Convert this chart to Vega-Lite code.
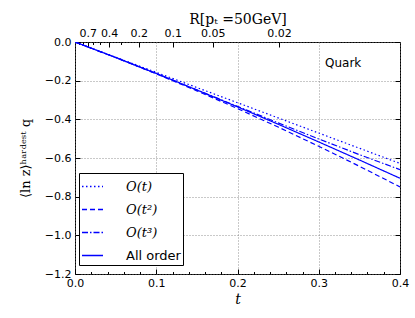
{
  "$schema": "https://vega.github.io/schema/vega-lite/v6.json",
  "width": 325,
  "height": 232,
  "autosize": "none",
  "padding": {"left": 75, "top": 42, "right": 15, "bottom": 44},
  "config": {
    "view": {"stroke": "black", "strokeWidth": 1},
    "font": "DejaVu Sans",
    "axis": {
      "labelFont": "DejaVu Sans",
      "labelFontSize": 11,
      "labelColor": "black",
      "labelFlush": false,
      "tickColor": "black",
      "domain": false,
      "titleFontWeight": "normal",
      "titleColor": "black",
      "gridColor": "#777777",
      "gridDash": [1, 2],
      "gridWidth": 0.8
    }
  },
  "datasets": {
    "curves": [
      {"t": 0.0, "v": 0.0, "order": "O(t)"},
      {"t": 0.05, "v": -0.0785, "order": "O(t)"},
      {"t": 0.1, "v": -0.157, "order": "O(t)"},
      {"t": 0.15, "v": -0.2355, "order": "O(t)"},
      {"t": 0.2, "v": -0.314, "order": "O(t)"},
      {"t": 0.25, "v": -0.3925, "order": "O(t)"},
      {"t": 0.3, "v": -0.471, "order": "O(t)"},
      {"t": 0.35, "v": -0.5495, "order": "O(t)"},
      {"t": 0.4, "v": -0.628, "order": "O(t)"},
      {"t": 0.0, "v": 0.0, "order": "O(t²)"},
      {"t": 0.05, "v": -0.0804, "order": "O(t²)"},
      {"t": 0.1, "v": -0.1646, "order": "O(t²)"},
      {"t": 0.15, "v": -0.2526, "order": "O(t²)"},
      {"t": 0.2, "v": -0.3444, "order": "O(t²)"},
      {"t": 0.25, "v": -0.44, "order": "O(t²)"},
      {"t": 0.3, "v": -0.5394, "order": "O(t²)"},
      {"t": 0.35, "v": -0.6426, "order": "O(t²)"},
      {"t": 0.4, "v": -0.7496, "order": "O(t²)"},
      {"t": 0.0, "v": 0.0, "order": "O(t³)"},
      {"t": 0.05, "v": -0.0802, "order": "O(t³)"},
      {"t": 0.1, "v": -0.1632, "order": "O(t³)"},
      {"t": 0.15, "v": -0.2479, "order": "O(t³)"},
      {"t": 0.2, "v": -0.3332, "order": "O(t³)"},
      {"t": 0.25, "v": -0.4181, "order": "O(t³)"},
      {"t": 0.3, "v": -0.5016, "order": "O(t³)"},
      {"t": 0.35, "v": -0.5826, "order": "O(t³)"},
      {"t": 0.4, "v": -0.66, "order": "O(t³)"},
      {"t": 0.0, "v": 0.0, "order": "All order"},
      {"t": 0.05, "v": -0.08, "order": "All order"},
      {"t": 0.1, "v": -0.1627, "order": "All order"},
      {"t": 0.15, "v": -0.248, "order": "All order"},
      {"t": 0.2, "v": -0.3356, "order": "All order"},
      {"t": 0.25, "v": -0.4253, "order": "All order"},
      {"t": 0.3, "v": -0.5169, "order": "All order"},
      {"t": 0.35, "v": -0.6101, "order": "All order"},
      {"t": 0.4, "v": -0.7048, "order": "All order"}
    ],
    "note": [
      {"t": 0.33, "v": -0.109, "label": "Quark"}
    ]
  },
  "layer": [
    {
      "data": {"name": "curves"},
      "mark": {"type": "line", "strokeWidth": 1.2, "clip": true},
      "encoding": {
        "x": {
          "field": "t", "type": "quantitative",
          "scale": {"domain": [0, 0.4], "nice": false, "zero": false},
          "axis": {
            "orient": "bottom",
            "values": [0, 0.1, 0.2, 0.3, 0.4],
            "format": ".1f",
            "grid": true,
            "tickSize": -5,
            "labelPadding": 8,
            "title": "t",
            "titleFont": "DejaVu Serif",
            "titleFontStyle": "italic",
            "titleFontSize": 14,
            "titlePadding": 4
          }
        },
        "y": {
          "field": "v", "type": "quantitative",
          "scale": {"domain": [-1.2, 0], "nice": false, "zero": false},
          "axis": {
            "orient": "left",
            "values": [-1.2, -1.0, -0.8, -0.6, -0.4, -0.2, 0.0],
            "format": ".1f",
            "grid": true,
            "tickSize": -5,
            "labelPadding": 9,
            "title": "⟨ln z⟩ʰᵃʳᵈᵉˢᵗ q",
            "titleFont": "DejaVu Serif",
            "titleFontSize": 13,
            "titlePadding": 12
          }
        },
        "color": {
          "field": "order", "type": "nominal",
          "scale": {
            "domain": ["O(t)", "O(t²)", "O(t³)", "All order"],
            "range": ["#0000ff", "#0000ff", "#0000ff", "#0000ff"]
          }
        },
        "strokeDash": {
          "field": "order", "type": "nominal",
          "scale": {
            "domain": ["O(t)", "O(t²)", "O(t³)", "All order"],
            "range": [[1.5, 2.5], [5, 3], [6, 2, 1.5, 2], [1, 0]]
          },
          "legend": {
            "title": null,
            "orient": "none",
            "legendX": 4,
            "legendY": 131,
            "padding": 2,
            "rowPadding": 4,
            "symbolType": "stroke",
            "symbolSize": 441,
            "symbolStrokeWidth": 1.3,
            "symbolOpacity": 1,
            "labelFontSize": 13,
            "labelFont": "DejaVu Sans",
            "labelOffset": 22,
            "labelColor": "black",
            "strokeColor": "black",
            "fillColor": "white",
            "cornerRadius": 0,
            "encode": {
              "labels": {
                "update": {
                  "font": [
                    {"test": "datum.label === 'All order'", "value": "DejaVu Sans"},
                    {"value": "DejaVu Serif"}
                  ],
                  "fontStyle": [
                    {"test": "datum.label === 'All order'", "value": "normal"},
                    {"value": "italic"}
                  ]
                }
              }
            }
          }
        }
      }
    },
    {
      "data": {"name": "note"},
      "mark": {"type": "text", "fontSize": 12, "font": "DejaVu Sans", "color": "black"},
      "encoding": {
        "x": {
          "field": "t", "type": "quantitative",
          "axis": {
            "orient": "top",
            "values": [0.0156, 0.042, 0.0785, 0.1203, 0.1695, 0.251],
            "labelExpr": "datum.value < 0.03 ? '0.7' : datum.value < 0.06 ? '0.4' : datum.value < 0.1 ? '0.2' : datum.value < 0.15 ? '0.1' : datum.value < 0.2 ? '0.05' : '0.02'",
            "grid": false,
            "tickSize": -5,
            "labelPadding": 9,
            "labelOverlap": false,
            "title": "R[pₜ =50GeV]",
            "titleFont": "DejaVu Serif",
            "titleFontSize": 14,
            "titlePadding": 1
          }
        },
        "y": {
          "field": "v", "type": "quantitative",
          "axis": {
            "orient": "right",
            "values": [-1.2, -1.0, -0.8, -0.6, -0.4, -0.2, 0.0],
            "labels": false,
            "grid": false,
            "tickSize": -5,
            "title": null
          }
        },
        "text": {"field": "label"}
      }
    },
    {
      "data": {"name": "curves"},
      "mark": {"type": "point", "opacity": 0},
      "encoding": {
        "x": {
          "field": "t", "type": "quantitative",
          "axis": {
            "orient": "bottom",
            "values": [0.02, 0.04, 0.06, 0.08, 0.12, 0.14, 0.16, 0.18, 0.22, 0.24, 0.26, 0.28, 0.32, 0.34, 0.36, 0.38],
            "labels": false,
            "grid": false,
            "tickSize": -2.5,
            "title": null
          }
        },
        "y": {"field": "v", "type": "quantitative", "axis": null}
      }
    },
    {
      "data": {"name": "curves"},
      "mark": {"type": "point", "opacity": 0},
      "encoding": {
        "x": {
          "field": "t", "type": "quantitative",
          "axis": {
            "orient": "top",
            "values": [0.0045, 0.0097, 0.0226, 0.0312, 0.0566],
            "labels": false,
            "grid": false,
            "tickSize": -2.5,
            "title": null
          }
        },
        "y": {"field": "v", "type": "quantitative", "axis": null}
      }
    }
  ],
  "resolve": {"axis": {"x": "independent", "y": "independent"}}
}
